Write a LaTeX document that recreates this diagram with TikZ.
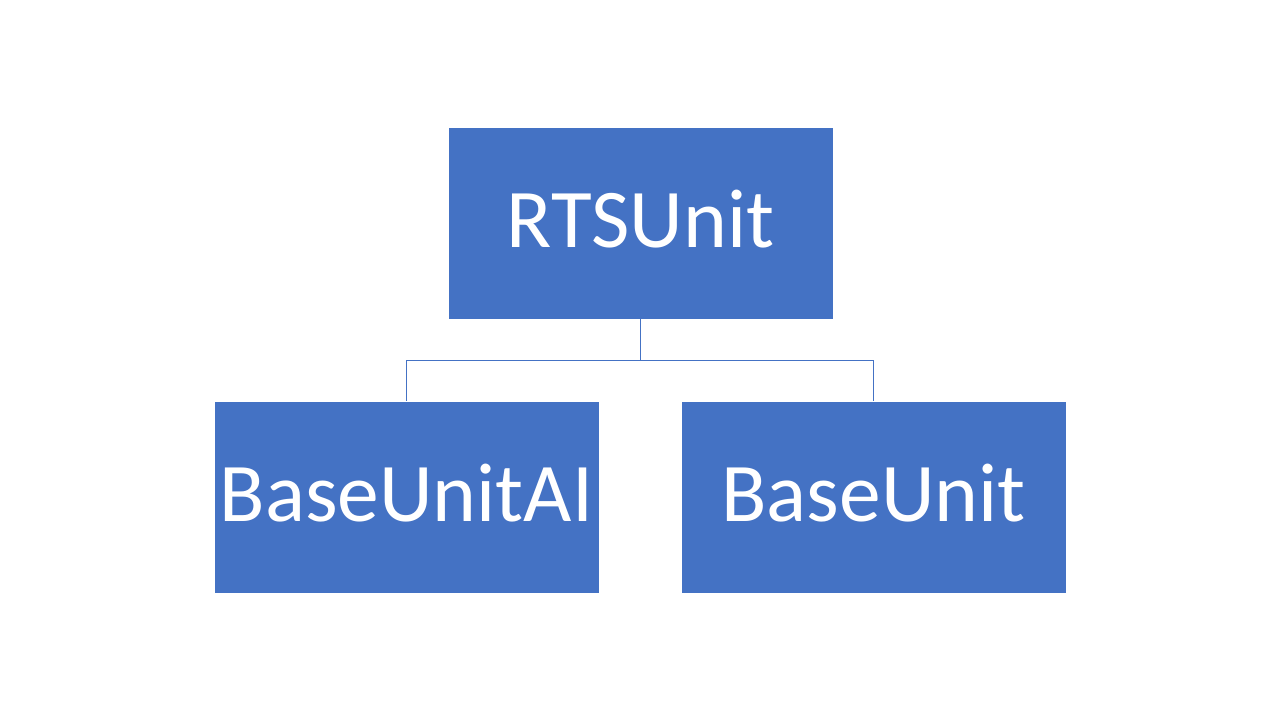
\documentclass[tikz,border=0pt]{standalone}
\usepackage{fontspec}
\setmainfont{Carlito}
\definecolor{boxblue}{HTML}{4472C4}
\definecolor{lineblue}{HTML}{4472C4}
\begin{document}
\begin{tikzpicture}[x=1pt,y=-1pt,
  unitbox/.style={fill=boxblue, draw=none, text=white, minimum width=384pt, minimum height=191pt, inner sep=0pt, text height=60pt, text depth=12pt, font=\fontsize{83.5}{100}\selectfont, anchor=center},
  link/.style={draw=lineblue, line width=1pt}]
\useasboundingbox (0,0) rectangle (1280,720);
\fill[white] (0,0) rectangle (1280,720);
\node[unitbox] (rts) at (640.5,223) {RTSUnit};
\node[unitbox] (bai) at (406.5,497) {BaseUnitAI};
\node[unitbox] (bu) at (873.5,497) {BaseUnit};
\coordinate (mid) at (640.5,360);
\draw[link] (rts.south) -- (mid) -| (bai.north);
\draw[link] (mid) -| (bu.north);
\end{tikzpicture}
\end{document}
